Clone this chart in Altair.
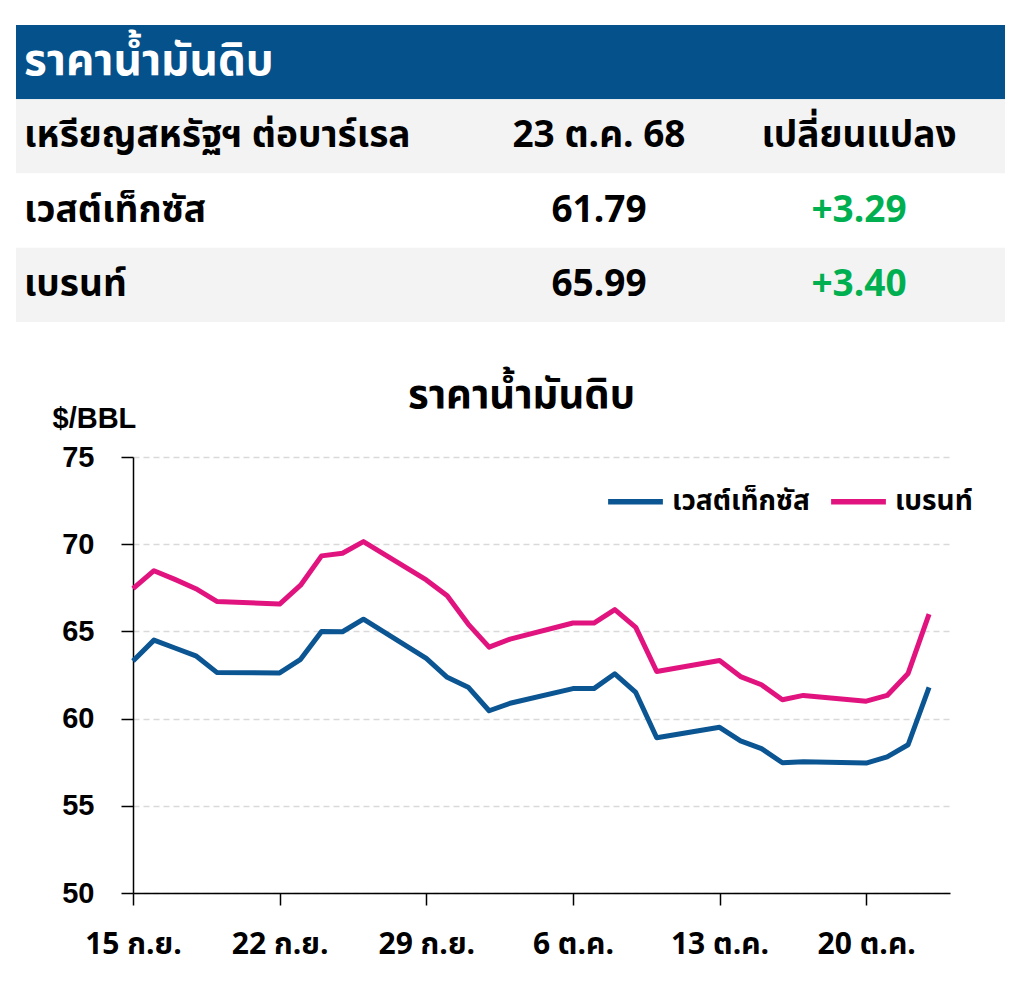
import altair as alt
import pandas as pd

# ---------------- data ----------------
dates = ["2025-09-15", "2025-09-16", "2025-09-17", "2025-09-18", "2025-09-19",
         "2025-09-22", "2025-09-23", "2025-09-24", "2025-09-25", "2025-09-26",
         "2025-09-29", "2025-09-30", "2025-10-01", "2025-10-02", "2025-10-03",
         "2025-10-06", "2025-10-07", "2025-10-08", "2025-10-09", "2025-10-10",
         "2025-10-13", "2025-10-14", "2025-10-15", "2025-10-16", "2025-10-17",
         "2025-10-20", "2025-10-21", "2025-10-22", "2025-10-23"]
wti = [63.30, 64.50, 64.05, 63.60, 62.65, 62.62, 63.40, 65.00, 64.98, 65.70,
       63.45, 62.37, 61.80, 60.45, 60.88, 61.72, 61.72, 62.57, 61.50, 58.90,
       59.50, 58.72, 58.28, 57.47, 57.53, 57.45, 57.81, 58.50, 61.79]
brent = [67.45, 68.48, 67.98, 67.45, 66.72, 66.57, 67.65, 69.33, 69.48, 70.15,
         67.95, 67.04, 65.42, 64.10, 64.56, 65.48, 65.48, 66.25, 65.23, 62.70,
         63.33, 62.41, 61.94, 61.08, 61.33, 61.00, 61.33, 62.59, 65.99]
series_names = ["เวสต์เท็กซัส", "เบรนท์"]

table_rows = ["title", "header", "wti", "brent"]
col_label = ["ราคาน้ำมันดิบ", "เหรียญสหรัฐฯ ต่อบาร์เรล", "เวสต์เท็กซัส", "เบรนท์"]
col_value = ["", "23 ต.ค. 68", "61.79", "65.99"]
col_change = ["", "เปลี่ยนแปลง", "+3.29", "+3.40"]

y_ticks = [50, 55, 60, 65, 70, 75]
x_tick_days = [(9, 15), (9, 22), (9, 29), (10, 6), (10, 13), (10, 20)]

# ---------------- styles ----------------
THAI = "Noto Sans Thai, Noto Sans Thai UI, Loma, Garuda, Tlwg Typo, Noto Sans, sans-serif"
ARIAL = "Liberation Sans, Arial, sans-serif"
BLUE_BAR = "#04518b"
BLUE = "#0a5592"
PINK = "#e1147f"
GREEN = "#00b050"

# ---------------- table ----------------
tdf = pd.DataFrame({"row": table_rows, "label": col_label,
                    "value": col_value, "change": col_change})
yscale = alt.Scale(domain=table_rows, paddingInner=0, paddingOuter=0)
ybar = alt.Y("row:N", scale=yscale, axis=None)
ytxt = alt.Y("row:N", scale=yscale, axis=None, bandPosition=0.5)

bg = alt.Chart(tdf).mark_rect().encode(
    y=ybar,
    x=alt.value(-117), x2=alt.value(872),
    fill=alt.Fill("row:N", scale=alt.Scale(domain=table_rows,
                  range=[BLUE_BAR, "#f3f3f3", "#ffffff", "#f3f3f3"]), legend=None),
)
title_txt = alt.Chart(tdf).transform_filter("datum.row == 'title'").mark_text(
    align="left", baseline="middle", font=THAI, fontSize=44, fontWeight="bold",
    color="white").encode(y=ytxt, x=alt.value(-109), text="label:N")
label_txt = alt.Chart(tdf).transform_filter("datum.row != 'title'").mark_text(
    align="left", baseline="middle", font=THAI, fontSize=37, fontWeight="bold",
    color="black").encode(y=ytxt, x=alt.value(-109), text="label:N")
value_txt = alt.Chart(tdf).transform_filter("datum.row != 'title'").mark_text(
    align="center", baseline="middle", font=THAI, fontSize=37, fontWeight="bold",
    color="black").encode(y=ytxt, x=alt.value(466), text="value:N")
change_txt = alt.Chart(tdf).transform_filter("datum.row != 'title'").mark_text(
    align="center", baseline="middle", font=THAI, fontSize=37, fontWeight="bold").encode(
    y=ytxt, x=alt.value(726), text="change:N",
    color=alt.condition("datum.row == 'header'", alt.value("black"), alt.value(GREEN)))

table = alt.layer(bg, title_txt, label_txt, value_txt, change_txt).properties(
    width=817, height=297)

# ---------------- line chart ----------------
rows = []
for d, a, b in zip(dates, wti, brent):
    rows.append({"date": d, "series": series_names[0], "price": a})
    rows.append({"date": d, "series": series_names[1], "price": b})
ldf = pd.DataFrame(rows)

tick_vals = [alt.DateTime(year=2025, month=m, date=d, utc=True) for m, d in x_tick_days]

line = alt.Chart(ldf).mark_line(strokeWidth=5, strokeJoin="round").encode(
    x=alt.X("date:T",
            scale=alt.Scale(type="utc", domain=[
                alt.DateTime(year=2025, month=9, date=15, utc=True),
                alt.DateTime(year=2025, month=10, date=24, utc=True)]),
            axis=alt.Axis(values=tick_vals, title=None, grid=False, labelFlush=False,
                          labelExpr="utcdate(datum.value) + ' ' + (utcmonth(datum.value) == 8 ? 'ก.ย.' : 'ต.ค.')",
                          labelFont=THAI, labelFontSize=30, labelFontWeight="bold",
                          labelColor="black", labelPadding=24, tickSize=12,
                          tickColor="black", tickWidth=1.5, domainColor="black",
                          domainWidth=1.5)),
    y=alt.Y("price:Q", scale=alt.Scale(domain=[50, 75], nice=False),
            axis=alt.Axis(values=y_ticks, title="$/BBL", titleAngle=0, titleAlign="left",
                          titleBaseline="alphabetic", titleX=-81, titleY=-30,
                          titleFont=ARIAL, titleFontSize=29, titleFontWeight="bold",
                          titleColor="black",
                          labelFont=ARIAL, labelFontSize=29, labelFontWeight="bold",
                          labelColor="black", labelPadding=27, tickSize=12,
                          tickColor="black", tickWidth=1.5, domainColor="black",
                          domainWidth=1.5, grid=True, gridColor="#d9d9d9",
                          gridDash=[6, 4], gridWidth=1.5)),
    color=alt.Color("series:N", sort=series_names,
                    scale=alt.Scale(domain=series_names, range=[BLUE, PINK]),
                    legend=alt.Legend(orient="none", legendX=472, legendY=14,
                                      direction="horizontal", title=None,
                                      symbolType="stroke", symbolSize=3000,
                                      symbolStrokeWidth=5.5, labelFont=THAI,
                                      labelFontSize=28, labelFontWeight="bold",
                                      labelColor="black", columnPadding=10,
                                      labelOffset=6)),
).properties(
    width=817, height=436,
    title=alt.Title("ราคาน้ำมันดิบ", font=THAI, fontSize=40, fontWeight="bold",
                    color="black", anchor="middle", dx=-20, offset=44, dy=56),
)

chart = alt.vconcat(table, line, spacing=135, bounds="flush").resolve_scale(
    color="independent", fill="independent"
).properties(
    padding={"left": 8, "top": 17, "right": 0, "bottom": 20}
).configure_view(stroke=None)

chart.save("out.html", embed_options={"renderer": "svg", "actions": False})
